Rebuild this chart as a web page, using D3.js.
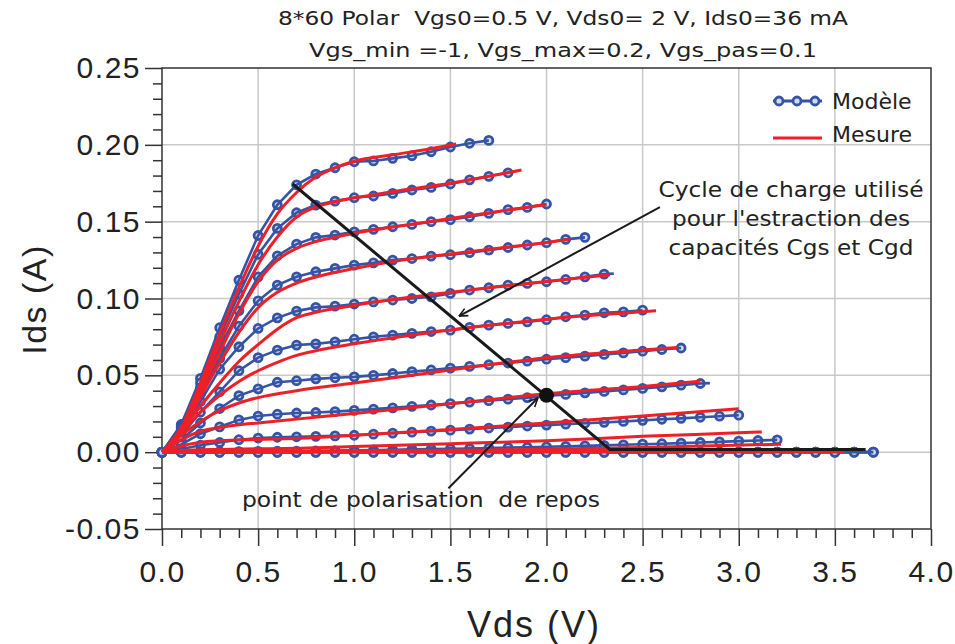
<!DOCTYPE html>
<html><head><meta charset="utf-8">
<script src="https://cdn.jsdelivr.net/npm/d3@7"></script>
<style>body{margin:0;background:#fff} text{white-space:pre}</style>
</head><body>
<svg id="c" width="955" height="644"></svg>
<script>
// ---------- text ----------
const titleLines = ["8*60 Polar  Vgs0=0.5 V, Vds0= 2 V, Ids0=36 mA", "Vgs_min =-1, Vgs_max=0.2, Vgs_pas=0.1"];
const xLabel = "Vds (V)";
const yLabel = "Ids (A)";
const legendLabels = ["Modèle", "Mesure"];
const annotCycle = ["Cycle de charge utilisé", "pour l'estraction des", "capacités Cgs et Cgd"];
const annotPoint = "point de polarisation  de repos";

// ---------- axes ticks ----------
const xMajorTicks = [0, 0.5, 1.0, 1.5, 2.0, 2.5, 3.0, 3.5, 4.0];
const yMajorTicks = [-0.05, 0, 0.05, 0.10, 0.15, 0.20, 0.25];

// ---------- model (Modèle) : Vds grid, Ids per Vgs ----------
const vgsValues = [0.2, 0.1, 0, -0.1, -0.2, -0.3, -0.4, -0.5, -0.6, -0.7, -0.8, -0.9, -1.0];
const modelVds = [0,0.1,0.2,0.3,0.4,0.5,0.6,0.7,0.8,0.9,1.0,1.1,1.2,1.3,1.4,1.5,1.6,1.7,1.8,1.9,2.0,2.1,2.2,2.3,2.4,2.5,2.6,2.7,2.8,2.9,3.0,3.1,3.2,3.3,3.4,3.5,3.6,3.7];
const m1 = [0,.018,.048,.081,.112,.141,.161,.174,.181,.1851,.189,.1895,.1912,.1929,.1955,.1986,.201,.2029];
const m2 = [0,.017,.045,.075,.103,.1287,.1456,.1558,.1608,.1634,.1656,.1667,.1684,.1706,.1723,.1745,.1772,.1795,.1818];
const m3 = [0,.016,.042,.068,.092,.1141,.1278,.1354,.1398,.1413,.1434,.145,.1467,.1482,.15,.1513,.1532,.1554,.1578,.1593,.1615];
const m4 = [0,.015,.038,.061,.082,.0985,.1087,.1141,.1174,.1196,.1217,.1232,.125,.126,.1276,.1285,.1298,.1315,.1332,.1348,.1363,.1385,.1398];
const m5 = [0,.013,.033,.054,.0686,.0805,.0874,.0918,.0942,.095,.0964,.0978,.099,.1,.1011,.1033,.1055,.107,.1087,.1098,.1109,.1124,.1141,.1159];
const m6 = [0,.011,.026,.0393,.053,.0615,.0664,.0697,.0705,.0718,.0735,.075,.0762,.0773,.0785,.0794,.0812,.0827,.0838,.0848,.0862,.0881,.0892,.0907,.0913,.0924];
const m7 = [0,.008,.019,.0284,.0368,.0412,.0455,.0465,.0477,.0484,.049,.05,.0512,.0524,.0535,.0547,.0558,.0569,.058,.0592,.0605,.0615,.0625,.0636,.0646,.0657,.0668,.0678];
const m8 = [0,.005,.012,.0165,.021,.0235,.0247,.0255,.0258,.0264,.0272,.028,.0288,.0298,.0307,.0316,.0326,.0335,.0345,.0355,.0366,.0376,.0386,.0395,.0405,.0415,.0425,.0436,.0447];
const m9 = [0,.002,.0045,.0063,.0081,.0092,.0097,.01,.0103,.0106,.011,.0117,.0124,.013,.0137,.0143,.015,.0157,.0163,.017,.0176,.0182,.0188,.0194,.02,.0207,.0214,.022,.0227,.0234,.0241];
const m10 = [0,.0001,.0002,.0003,.0004,.0005,.0006,.0007,.0008,.001,.0012,.0014,.0016,.0018,.002,.0022,.0024,.0027,.003,.0032,.0035,.0038,.0041,.0044,.0048,.0052,.0055,.0059,.0063,.0067,.0072,.0076,.008];
const m11 = [0,0,0,0,0,0,0,0,0,0,0,0,0,0,0,0,0,0,0,0,0,0,0,0,0,0,0,0,0,0,0,0,0,0,0,0,0,0];
const m12 = [0,0,0,0,0,0,0,0,0,0,0,0,0,0,0,0,0,0,0,0,0,0,0,0,0,0,0,0,0,0,0,0,0,0,0,0,0,0];
const m13 = [0,0,0,0,0,0,0,0,0,0,0,0,0,0,0,0,0,0,0,0,0,0,0,0,0,0,0,0,0,0,0,0,0,0,0,0,0,0];
// end of model line beyond last marker (Vds, Ids) or null
const modelTails = [null,null,null,null,[2.35,.1162],null,null,[2.85,.0449],null,null,null,null,null];

// ---------- measurement (Mesure) : [Vds, Ids] ----------
const r1 = [[0,0],[0.1,.016],[0.2,.045],[0.3,.077],[0.4,.107],[0.5,.134],[0.6,.155],[0.7,.169],[0.8,.179],[0.9,.185],[1.0,.1893],[1.2,.1935],[1.4,.1975],[1.53,.2005]];
const r2 = [[0,0],[0.1,.015],[0.2,.042],[0.3,.071],[0.4,.098],[0.5,.122],[0.6,.14],[0.7,.153],[0.8,.1595],[0.9,.163],[1.0,.1655],[1.2,.1695],[1.5,.175],[1.87,.1836]];
const r3 = [[0,0],[0.1,.014],[0.2,.039],[0.3,.065],[0.4,.09],[0.5,.111],[0.6,.125],[0.7,.1326],[0.8,.137],[0.9,.1398],[1.0,.1425],[1.2,.1465],[1.5,.152],[2.0,.1612]];
const r4 = [[0,0],[0.1,.013],[0.2,.036],[0.3,.058],[0.4,.078],[0.5,.094],[0.6,.104],[0.7,.11],[0.8,.114],[1.0,.1195],[1.2,.124],[1.5,.129],[2.0,.1365],[2.12,.1385]];
const r5 = [[0,0],[0.1,.014],[0.2,.03],[0.3,.045],[0.4,.059],[0.5,.07],[0.6,.08],[0.7,.0875],[0.8,.091],[1.0,.0955],[1.5,.104],[2.0,.111],[2.33,.1155]];
const r6 = [[0,0],[0.1,.013],[0.2,.026],[0.3,.037],[0.4,.046],[0.5,.053],[0.6,.0585],[0.7,.063],[0.8,.066],[1.0,.0705],[1.5,.0795],[2.0,.0865],[2.57,.092]];
const r7 = [[0,0],[0.1,.011],[0.2,.02],[0.3,.027],[0.4,.032],[0.5,.0355],[0.7,.04],[1.0,.045],[1.5,.0535],[2.0,.0615],[2.5,.0665],[2.68,.0681]];
const r8 = [[0,0],[0.1,.008],[0.2,.0135],[0.3,.016],[0.4,.0178],[0.5,.019],[0.7,.0215],[1.0,.0252],[1.5,.0315],[2.0,.038],[2.5,.0428],[2.8,.0462]];
const r9 = [[0,0],[0.1,.004],[0.2,.0065],[0.3,.0075],[0.5,.0083],[0.72,.009],[1.0,.011],[1.5,.0148],[2.0,.019],[2.5,.0235],[3.0,.0282]];
const r10 = [[0,0],[0.1,.001],[0.3,.0018],[0.5,.0022],[0.72,.0026],[1.0,.0037],[1.5,.0055],[2.0,.0074],[2.5,.0103],[3.0,.0126],[3.12,.0132]];
const r11 = [[0,0],[0.5,.0003],[1.0,.0008],[1.5,.0013],[2.0,.0019],[2.5,.003],[3.22,.0052]];
const r12 = [[0,0],[1.0,.0006],[2.0,.001],[3.0,.0012],[3.55,.0013]];
const r13 = [[0,0],[1.0,.0002],[2.0,.0004],[3.0,.0005],[3.55,.0005]];

// ---------- load cycle & bias point ----------
const loadLineVds = [0.68, 2.33, 3.66];
const loadLineIds = [0.1745, 0.0018, 0.0018];
const biasPoint = [2.0, 0.037];

// ================= drawing =================
const modelIds = [m1,m2,m3,m4,m5,m6,m7,m8,m9,m10,m11,m12,m13];
const measures = [r1,r2,r3,r4,r5,r6,r7,r8,r9,r10,r11,r12,r13];
const BLUE = "#3554a6", RED = "#ee2027", AX = "#333";
const SANS = "Liberation Sans, Arial, sans-serif";
const DJV = "DejaVu Sans";

const svg = d3.select("#c");
const x = d3.scaleLinear().domain([0, 4]).range([162, 931]);
const y = d3.scaleLinear().domain([-0.05, 0.25]).range([529, 68]);

// grid
const grid = svg.append("g").attr("stroke", "#c9c9c9").attr("stroke-width", 1.5);
grid.selectAll("line.v").data(xMajorTicks.filter(v => v > 0 && v < 4)).join("line")
  .attr("x1", d => x(d)).attr("x2", d => x(d)).attr("y1", y(0.25)).attr("y2", y(-0.05));
grid.selectAll("line.h").data(yMajorTicks.filter(v => v > -0.05 && v < 0.25)).join("line")
  .attr("x1", x(0)).attr("x2", x(4)).attr("y1", d => y(d)).attr("y2", d => y(d));

// frame
svg.append("rect").attr("x", x(0)).attr("y", y(0.25)).attr("width", x(4) - x(0)).attr("height", y(-0.05) - y(0.25))
  .attr("fill", "none").attr("stroke", AX).attr("stroke-width", 1.5);

// axes
const tickFont = g => g.selectAll("text").attr("font-family", SANS)
  .attr("font-size", 30).attr("letter-spacing", 1.5).attr("fill", "#222");
const styleAx = g => { g.select(".domain").remove(); g.selectAll("line").attr("stroke", AX).attr("stroke-width", 1.5); };

const minorX = d3.range(0, 41).map(i => i / 10).filter(v => xMajorTicks.indexOf(v) < 0);
svg.append("g").attr("transform", `translate(0,${y(-0.05)})`)
  .call(d3.axisBottom(x).tickValues(minorX).tickSize(9).tickFormat(""))
  .call(styleAx);
svg.append("g").attr("transform", `translate(0,${y(-0.05)})`)
  .call(d3.axisBottom(x).tickValues(xMajorTicks).tickSize(17).tickPadding(15).tickFormat(d3.format(".1f")))
  .call(styleAx).call(tickFont);

const fmtY = v => d3.format(".2f")(v).replace("\u2212", "-");
const minorY = d3.range(-5, 26).map(i => i / 100).filter(v => !yMajorTicks.some(t => Math.abs(t - v) < 1e-9));
svg.append("g").attr("transform", `translate(${x(0)},0)`)
  .call(d3.axisLeft(y).tickValues(minorY).tickSize(9).tickFormat(""))
  .call(styleAx);
svg.append("g").attr("transform", `translate(${x(0)},0)`)
  .call(d3.axisLeft(y).tickValues(yMajorTicks).tickSize(17).tickPadding(4).tickFormat(fmtY))
  .call(styleAx).call(tickFont);

// axis titles
svg.append("text").attr("x", 534).attr("y", 637).attr("text-anchor", "middle")
  .attr("font-family", SANS).attr("font-size", 36).attr("letter-spacing", 2)
  .attr("fill", "#222").text(xLabel);
svg.append("text").attr("transform", `translate(46,${y(0.1) + 1}) rotate(-90)`).attr("text-anchor", "middle")
  .attr("font-family", SANS).attr("font-size", 34).attr("letter-spacing", 1.5)
  .attr("fill", "#222").text(yLabel);

// title
svg.selectAll("text.title").data(titleLines).join("text").attr("class", "title")
  .attr("x", 563).attr("y", (d, i) => 25 + i * 32).attr("text-anchor", "middle")
  .attr("font-family", DJV).attr("font-size", 19).attr("fill", "#222")
  .attr("textLength", (d, i) => i === 0 ? 570 : 508).attr("lengthAdjust", "spacingAndGlyphs")
  .text(d => d);

// model curves
const lineGen = d3.line().x(d => x(d[0])).y(d => y(d[1]));
const gModel = svg.append("g");
modelIds.forEach((ids, k) => {
  const pts = ids.map((v, i) => [modelVds[i], v]);
  const linePts = modelTails[k] ? pts.concat([modelTails[k]]) : pts;
  gModel.append("g").selectAll("circle").data(pts).join("circle")
    .attr("cx", d => x(d[0])).attr("cy", d => y(d[1])).attr("r", 4)
    .attr("fill", "#d3daee").attr("stroke", BLUE).attr("stroke-width", 2.8);
  gModel.append("path").datum(linePts).attr("d", lineGen)
    .attr("fill", "none").attr("stroke", BLUE).attr("stroke-width", 2.6);
});

// measured curves
const measGen = d3.line().x(d => x(d[0])).y(d => y(d[1])).curve(d3.curveMonotoneX);
svg.append("g").selectAll("path").data(measures).join("path").attr("d", measGen)
  .attr("fill", "none").attr("stroke", RED).attr("stroke-width", 3);

// load cycle
svg.append("path").datum(loadLineVds.map((v, i) => [v, loadLineIds[i]])).attr("d", lineGen)
  .attr("fill", "none").attr("stroke", "#1a1a1a").attr("stroke-width", 3);
svg.append("circle").attr("cx", x(biasPoint[0])).attr("cy", y(biasPoint[1])).attr("r", 7.5).attr("fill", "#111");

// arrows
svg.append("defs").append("marker").attr("id", "arr").attr("viewBox", "0 0 10 10")
  .attr("refX", 9.5).attr("refY", 5).attr("markerWidth", 10).attr("markerHeight", 10)
  .attr("markerUnits", "userSpaceOnUse").attr("orient", "auto")
  .append("path").attr("d", "M1,1 L9.5,5 L1,9").attr("fill", "none").attr("stroke", "#1a1a1a").attr("stroke-width", 1.6);
const arrows = [[[2.59, 0.1595], [1.545, 0.0885]], [[1.49, -0.0235], [1.955, 0.0352]]];
arrows.forEach(a => svg.append("line")
  .attr("x1", x(a[0][0])).attr("y1", y(a[0][1])).attr("x2", x(a[1][0])).attr("y2", y(a[1][1]))
  .attr("stroke", "#1a1a1a").attr("stroke-width", 2).attr("marker-end", "url(#arr)"));

// annotations
const cycLen = [265, 238, 245];
svg.selectAll("text.cyc").data(annotCycle).join("text").attr("class", "cyc")
  .attr("x", 791).attr("y", (d, i) => 197 + i * 29).attr("text-anchor", "middle")
  .attr("font-family", DJV).attr("font-size", 21).attr("fill", "#222")
  .attr("textLength", (d, i) => cycLen[i]).attr("lengthAdjust", "spacingAndGlyphs").text(d => d);
svg.append("text").attr("x", 421).attr("y", 507).attr("text-anchor", "middle")
  .attr("font-family", DJV).attr("font-size", 21).attr("fill", "#222")
  .attr("textLength", 358).attr("lengthAdjust", "spacingAndGlyphs").text(annotPoint);

// legend
const lg = svg.append("g");
lg.append("line").attr("x1", 773).attr("x2", 822).attr("y1", 101).attr("y2", 101).attr("stroke", BLUE).attr("stroke-width", 3);
lg.selectAll("circle").data([0, 1, 2]).join("circle").attr("cx", d => 779 + d * 18).attr("cy", 101).attr("r", 4)
  .attr("fill", "#d3daee").attr("stroke", BLUE).attr("stroke-width", 2.8);
lg.append("line").attr("x1", 773).attr("x2", 822).attr("y1", 138).attr("y2", 138).attr("stroke", RED).attr("stroke-width", 3);
lg.selectAll("text").data(legendLabels).join("text").attr("x", 832).attr("y", (d, i) => 109 + i * 33)
  .attr("font-family", DJV).attr("font-size", 22).attr("fill", "#222").text(d => d);
</script>
</body></html>
